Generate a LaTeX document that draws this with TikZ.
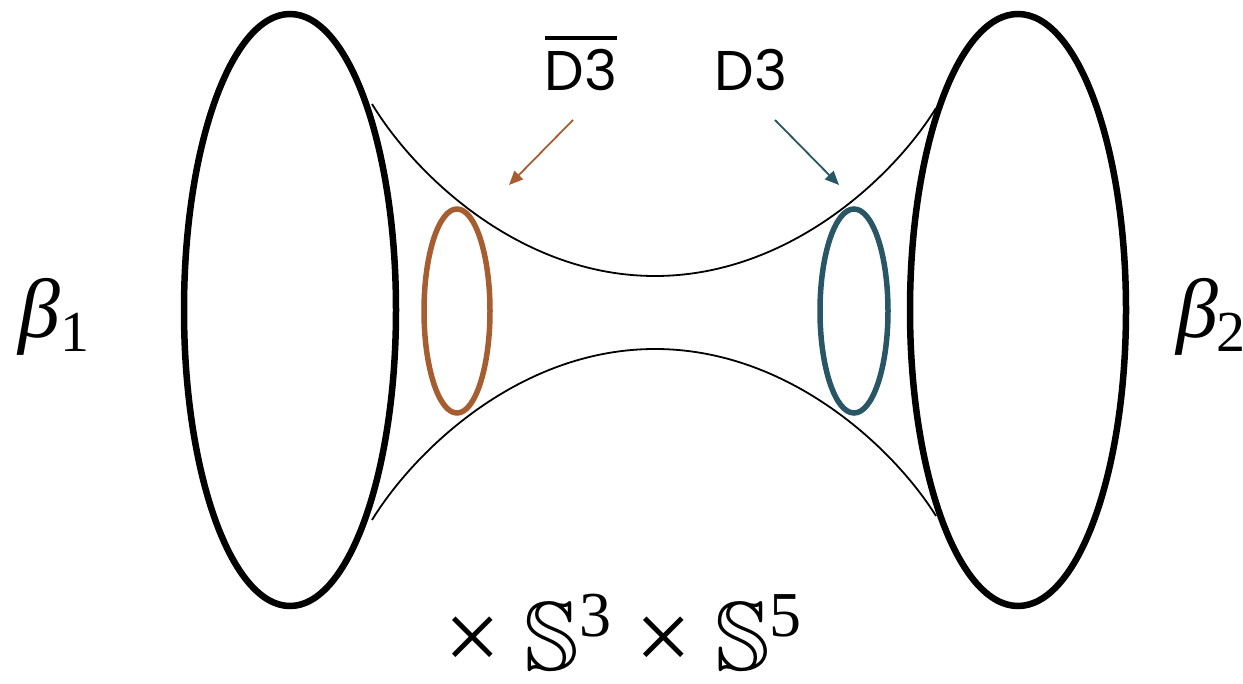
\documentclass[tikz,border=0pt]{standalone}
\usepackage{amssymb}
\usepackage{fontspec}
\newfontfamily\labfont{Poppins}
\newfontfamily\serfont{Liberation Serif}
\definecolor{dorange}{RGB}{166,94,48}
\definecolor{dteal}{RGB}{40,86,100}
\usetikzlibrary{arrows.meta}
\tikzset{
  bigring/.style={line width=6.5pt, black},
  thin/.style={line width=1.8pt, black},
  orring/.style={line width=5.5pt, dorange},
  tlring/.style={line width=5.5pt, dteal},
  lab/.style={font=\labfont\fontsize{56}{60}\selectfont, inner sep=0pt},
  ptr/.style={line width=1.8pt, -{Triangle[length=14pt,width=12pt]}},
}
\newcommand{\bigS}{{\fontsize{98}{100}\selectfont$\mathbb{S}$}}
\newcommand{\supd}[1]{\raisebox{34pt}{\fontsize{64}{64}\selectfont #1}}
\begin{document}
\begin{tikzpicture}[x=1pt,y=-1pt]
\useasboundingbox (0,0) rectangle (1243,684);
% throat curves
\draw[thin] (372,104) .. controls (415,175) and (520,276) .. (655,276)
  .. controls (790,276) and (895,175) .. (936,108);
\draw[thin] (372,520) .. controls (415,450) and (520,349) .. (655,349)
  .. controls (790,349) and (895,450) .. (936,516);
% big rings
\draw[bigring] (290,310) ellipse [x radius=106, y radius=296];
\draw[bigring] (1018,310) ellipse [x radius=108, y radius=296];
% small rings
\draw[orring] (457,311) ellipse [x radius=33, y radius=102];
\draw[tlring] (854,311) ellipse [x radius=34, y radius=102];
% labels
\node[lab, anchor=base] (dbar) at (581,91) {D3};
\draw[line width=4pt] ([yshift=12pt]dbar.north west) -- ([yshift=12pt]dbar.north east);
\node[lab, anchor=base] (d) at (751,91) {D3};
\coordinate (a1s) at (573,120); \coordinate (a1e) at (509,185);
\coordinate (a2s) at (775,120); \coordinate (a2e) at (839,185);
\draw[ptr, dorange] (a1s) -- (a1e);
\draw[ptr, dteal] (a2s) -- (a2e);
\node[anchor=base west, inner sep=0pt, font=\serfont\fontsize{84}{90}\selectfont] (b1) at (18,338) {\textit{β}\raisebox{-14pt}{\fontsize{58}{60}\selectfont 1}};
\node[anchor=base west, inner sep=0pt, font=\serfont\fontsize{84}{90}\selectfont] (b2) at (1176,338) {\textit{β}\hspace{-2pt}\raisebox{-14pt}{\fontsize{58}{60}\selectfont 2}};
\node[anchor=base west, inner sep=0pt, text depth=0pt, font=\serfont\fontsize{100}{100}\selectfont] (prod) at (444,670) {×\hspace{24pt}\bigS\supd{3}\hspace{24pt}×\hspace{24pt}\bigS\supd{5}};
\end{tikzpicture}
\end{document}
